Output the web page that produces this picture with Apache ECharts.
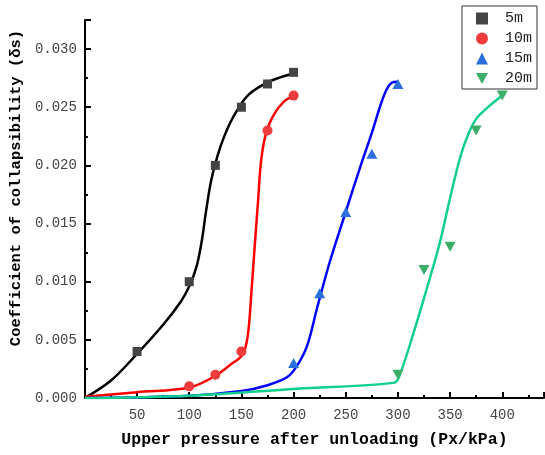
<!DOCTYPE html>
<html>
<head>
<meta charset="utf-8">
<script src="https://cdn.jsdelivr.net/npm/echarts@6/dist/echarts.min.js"></script>
<style>html,body{margin:0;padding:0;background:#fff}#c{width:545px;height:455px}</style>
</head>
<body>
<div id="c"></div>
<script>
// Measured points
var seriesNames = ['5m', '10m', '15m', '20m'];
var pts5mX = [50, 100, 125, 150, 175, 200];
var pts5mY = [0.004, 0.010, 0.020, 0.025, 0.027, 0.028];
var pts10mX = [100, 125, 150, 175, 200];
var pts10mY = [0.001, 0.002, 0.004, 0.023, 0.026];
var pts15mX = [200, 225, 250, 275, 300];
var pts15mY = [0.003, 0.009, 0.016, 0.021, 0.027];
var pts20mX = [300, 325, 350, 375, 400];
var pts20mY = [0.002, 0.011, 0.013, 0.023, 0.026];

// Fitted curves
var fit5mX = [0, 25, 50, 75, 92, 100, 107, 112, 116, 121, 127, 134, 143, 156, 172, 185, 200];
var fit5mY = [0, 0.0015, 0.0038, 0.0063, 0.0083, 0.0096, 0.0113, 0.0135, 0.0160, 0.0187, 0.0208, 0.0226, 0.0243, 0.0260, 0.0270, 0.0275, 0.0279];
var fit10mX = [0, 50, 100, 125, 140, 151, 156, 159.5, 162.7, 166, 169, 174, 182, 191, 200];
var fit10mY = [0.0001, 0.0005, 0.0009, 0.0019, 0.0029, 0.0037, 0.0053, 0.0090, 0.0130, 0.0170, 0.0205, 0.0229, 0.0245, 0.0255, 0.0260];
var fit15mX = [0, 100, 150, 175, 194, 203.5, 213, 222.7, 235, 250, 264, 275, 283, 289, 294, 300];
var fit15mY = [0, 0.0002, 0.0006, 0.0011, 0.0018, 0.0028, 0.0045, 0.0078, 0.0118, 0.0160, 0.0199, 0.0228, 0.0251, 0.0265, 0.0271, 0.0272];
var fit20mX = [0, 100, 203, 296, 301, 315, 328, 340, 350, 360, 368, 375, 385, 400];
var fit20mY = [0, 0.0002, 0.0008, 0.0013, 0.0018, 0.0056, 0.0095, 0.0133, 0.0172, 0.0208, 0.0228, 0.0240, 0.0249, 0.0260];

var xTicks = {min: 0, max: 440, interval: 50};
var yTicks = {min: 0, max: 0.0325, interval: 0.005};

function zip(a, b) { return a.map(function (v, i) { return [v, b[i]]; }); }

var lineColors = ['#000000', '#ff0000', '#0000ff', '#10d08c'];
var markColors = ['#444444', '#ef3b3b', '#2a6fdb', '#3cae6a'];
var symbols = ['rect', 'circle', 'triangle', 'path://M0,0 L10,0 L5,9 Z'];
var symSizes = [9, 10, [11, 10], [11, 10]];
var fits = [[fit5mX, fit5mY], [fit10mX, fit10mY], [fit15mX, fit15mY], [fit20mX, fit20mY]];
var pts = [[pts5mX, pts5mY], [pts10mX, pts10mY], [pts15mX, pts15mY], [pts20mX, pts20mY]];

var series = [];
fits.forEach(function (f, i) {
  series.push({
    name: 'fit ' + seriesNames[i], type: 'line', data: zip(f[0], f[1]),
    smooth: 0.35, showSymbol: false, symbol: 'none',
    lineStyle: {color: lineColors[i], width: 2.5}, z: 2, silent: true
  });
});
pts.forEach(function (p, i) {
  series.push({
    name: seriesNames[i], type: 'scatter', data: zip(p[0], p[1]),
    symbol: symbols[i], symbolSize: symSizes[i],
    itemStyle: {color: markColors[i], opacity: 1}, z: 3
  });
});

var mono = '"Liberation Mono", "DejaVu Sans Mono", monospace';
var chart = echarts.init(document.getElementById('c'), null, {renderer: 'canvas'});
chart.setOption({
  animation: false,
  backgroundColor: '#ffffff',
  grid: {left: 84, right: 1, top: 20, bottom: 57, containLabel: false},
  legend: {
    data: seriesNames, orient: 'vertical', left: 462, top: 6,
    borderColor: '#333', borderWidth: 1, borderRadius: 0,
    padding: [5, 5, 3, 14], itemGap: 5, itemWidth: 12, itemHeight: 12,
    textStyle: {fontFamily: mono, fontSize: 15, color: '#222', lineHeight: 12, padding: [0, 0, 0, 12]}
  },
  xAxis: {
    type: 'value', min: xTicks.min, max: xTicks.max, interval: xTicks.interval,
    name: 'Upper pressure after unloading (Px/kPa)', nameLocation: 'middle', nameGap: 33,
    nameTextStyle: {fontFamily: mono, fontWeight: 'bold', fontSize: 16.5, color: '#000'},
    axisLine: {show: true, onZero: false, lineStyle: {color: '#000', width: 2}},
    axisTick: {show: true, inside: true, length: 6, lineStyle: {color: '#000', width: 2}},
    minorTick: {show: true, splitNumber: 2, length: 3, lineStyle: {color: '#000', width: 2}},
    splitLine: {show: false},
    axisLabel: {
      fontFamily: mono, fontSize: 14, color: '#444', margin: 10, showMaxLabel: false,
      formatter: function (v) { return v === 0 ? '' : String(v); }
    }
  },
  yAxis: {
    type: 'value', min: yTicks.min, max: yTicks.max, interval: yTicks.interval,
    name: 'Coefficient of collapsibility (δs)', nameLocation: 'middle', nameGap: 54,
    nameTextStyle: {fontFamily: mono, fontWeight: 'bold', fontSize: 15.5, color: '#000', padding: [0, 0, 0, 42]},
    axisLine: {show: true, onZero: false, lineStyle: {color: '#000', width: 2}},
    axisTick: {show: true, inside: true, length: 6, lineStyle: {color: '#000', width: 2}},
    minorTick: {show: true, splitNumber: 2, length: 3, lineStyle: {color: '#000', width: 2}},
    splitLine: {show: false},
    axisLabel: {
      fontFamily: mono, fontSize: 14, color: '#444', margin: 8, showMaxLabel: false,
      formatter: function (v) { return v.toFixed(3); }
    }
  },
  series: series
});
</script>
</body>
</html>
